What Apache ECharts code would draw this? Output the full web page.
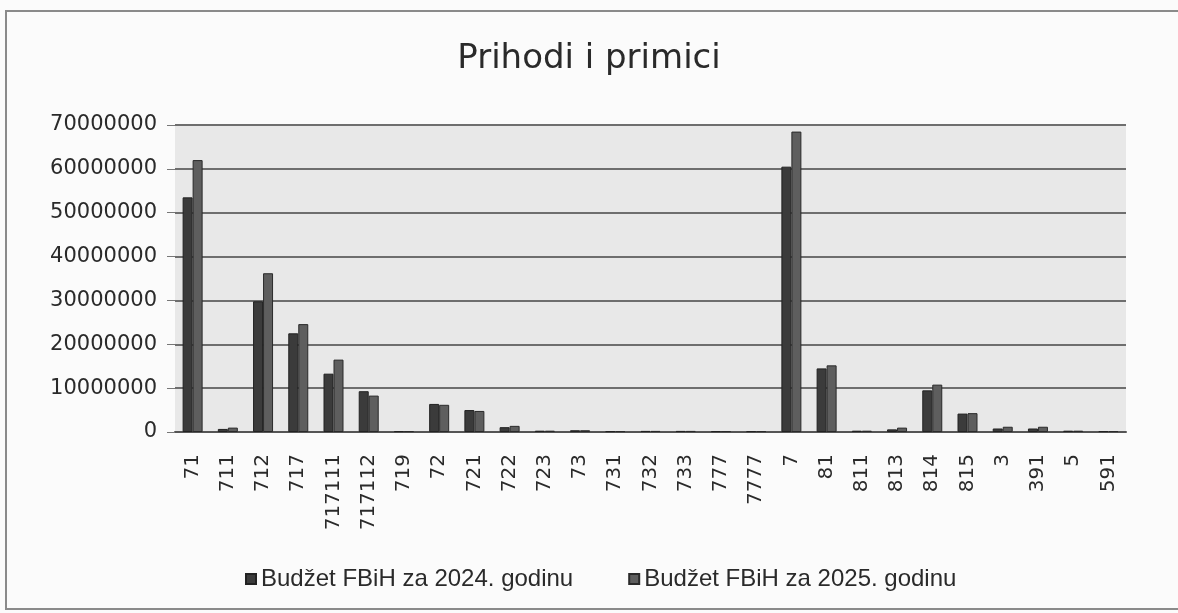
<!DOCTYPE html>
<html>
<head>
<meta charset="utf-8">
<title>Prihodi i primici</title>
<script src="https://cdn.jsdelivr.net/npm/echarts@6/dist/echarts.min.js"></script>
<style>
  html, body {margin: 0; padding: 0; background: #fbfbfb;}
  #frame {position: absolute; left: 5px; top: 10px; width: 1180px; height: 600px; border: 2px solid #8a8a8a; border-right: none; box-sizing: border-box;}
  #chart {position: absolute; left: 0; top: 0; width: 1178px; height: 613px;}
</style>
</head>
<body>
<div id="frame"></div>
<div id="chart"></div>
<script>
// konta (kategorije)
var categories = ['71', '711', '712', '717', '717111', '717112', '719', '72', '721', '722', '723', '73',
    '731', '732', '733', '777', '7777', '7', '81', '811', '813', '814', '815', '3', '391', '5', '591'];
// Budžet FBiH za 2024. godinu
var budget2024 = [53500000, 700000, 29800000, 22500000, 13300000, 9300000, 200000, 6400000, 5000000, 1100000, 300000, 400000,
    200000, 250000, 250000, 200000, 200000, 60500000, 14500000, 300000, 600000, 9500000, 4200000, 800000, 800000, 300000, 200000];
// Budžet FBiH za 2025. godinu
var budget2025 = [62000000, 1000000, 36200000, 24600000, 16500000, 8300000, 200000, 6200000, 4800000, 1400000, 300000, 400000,
    200000, 250000, 250000, 200000, 200000, 68500000, 15200000, 300000, 1000000, 10800000, 4300000, 1200000, 1200000, 300000, 200000];
var yTicks = {min: 0, max: 70000000, interval: 10000000};

var fontMain = '"DejaVu Sans", "Noto Sans", sans-serif';
var e = echarts.init(document.getElementById('chart'));
e.setOption({
    backgroundColor: 'transparent',
    animation: false,
    title: {
        text: 'Prihodi i primici', left: 'center', top: 37,
        textStyle: {fontFamily: fontMain, fontSize: 34, fontWeight: 'normal', color: '#2a2a2a'}
    },
    legend: {
        left: 240, top: 562, itemWidth: 10, itemHeight: 10, itemGap: 55,
        icon: 'rect',
        textStyle: {fontFamily: '"Liberation Sans", sans-serif', fontSize: 24, color: '#2a2a2a'},
        data: ['Budžet FBiH za 2024. godinu', 'Budžet FBiH za 2025. godinu']
    },
    grid: {
        left: 175, right: 52, top: 125, bottom: 181,
        show: true, backgroundColor: '#e8e8e8', borderWidth: 0
    },
    xAxis: {
        type: 'category', data: categories,
        axisLine: {lineStyle: {color: '#555', width: 2}},
        axisTick: {show: false},
        axisLabel: {rotate: 90, interval: 0, margin: 22, fontFamily: fontMain, fontSize: 20, color: '#2a2a2a'}
    },
    yAxis: {
        type: 'value', min: yTicks.min, max: yTicks.max, interval: yTicks.interval,
        axisLine: {show: false},
        axisTick: {show: true, length: 8, lineStyle: {color: '#777'}},
        splitLine: {lineStyle: {color: '#6e6e6e', width: 2}},
        axisLabel: {
            margin: 18, fontFamily: fontMain, fontSize: 21, color: '#2a2a2a', padding: [8, 0, 0, 0],
            formatter: function (v) { return String(v); }
        }
    },
    series: [
        {
            name: 'Budžet FBiH za 2024. godinu', type: 'bar', data: budget2024,
            barWidth: 10, barGap: '0%',
            itemStyle: {color: '#3b3b3b', borderColor: '#222', borderWidth: 1}
        },
        {
            name: 'Budžet FBiH za 2025. godinu', type: 'bar', data: budget2025,
            barWidth: 10,
            itemStyle: {color: '#5e5e5e', borderColor: '#2a2a2a', borderWidth: 1}
        }
    ]
});
</script>
</body>
</html>
